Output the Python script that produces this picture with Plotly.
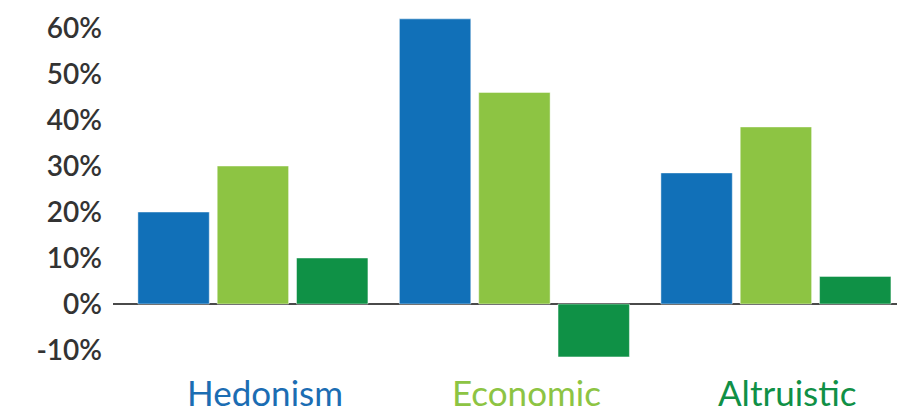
import plotly.graph_objects as go

categories = ["Hedonism", "Economic", "Altruistic"]
series_a = [20, 62, 28.5]
series_b = [30, 46, 38.5]
series_c = [10, -11.5, 6]
tick_values = [-10, 0, 10, 20, 30, 40, 50, 60]
tick_labels = ["-10%", "0%", "10%", "20%", "30%", "40%", "50%", "60%"]

bar_colors = ["#1170B8", "#8DC443", "#0F9146"]
label_colors = ["#1B6DB3", "#8DC443", "#109046"]

x = list(range(len(categories)))

fig = go.Figure()
for vals, col in zip([series_a, series_b, series_c], bar_colors):
    fig.add_trace(go.Bar(
        x=x, y=vals,
        marker=dict(color=col, line=dict(color="rgba(255,255,255,0.45)", width=1)),
        showlegend=False,
        hoverinfo="skip",
    ))

for i, (name, col) in enumerate(zip(categories, label_colors)):
    fig.add_annotation(
        x=i, y=0, yref="paper", yanchor="middle", xshift=12, yshift=-22,
        text=name, showarrow=False,
        font=dict(family="Lato", size=35, color=col),
    )

fig.update_layout(
    width=897, height=410,
    margin=dict(l=113, r=0, t=0, b=40),
    paper_bgcolor="white", plot_bgcolor="white",
    barmode="group", bargap=0.09, bargroupgap=0.1,
    xaxis=dict(range=[-0.535, 2.463], showticklabels=False, showgrid=False,
               zeroline=False, showline=False),
    yaxis=dict(range=[-14.35, 66.1], tickvals=tick_values, ticktext=tick_labels,
               showgrid=False, zeroline=True, zerolinecolor="#4a4a4a",
               zerolinewidth=2, showline=False, ticks="", ticklabelstandoff=10,
               tickfont=dict(family="Lato", size=28, weight=600, color="#333333")),
)

fig.write_html("out.html")
